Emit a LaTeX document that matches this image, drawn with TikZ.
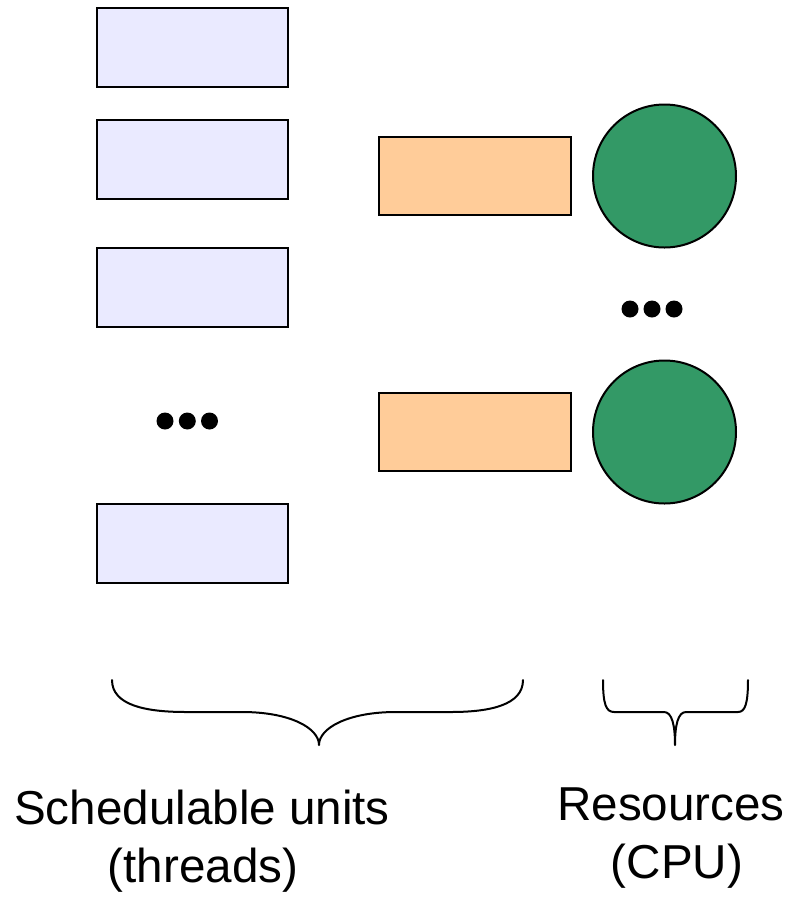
\documentclass[tikz,border=0pt]{standalone}
\usepackage{fontspec}
\setmainfont{Liberation Sans}
\definecolor{unitblue}{HTML}{EAEAFF}
\definecolor{queueorange}{HTML}{FFCC99}
\definecolor{cpugreen}{HTML}{339966}
\begin{document}
\begin{tikzpicture}[x=1pt,y=-1pt,
  unitbox/.style={draw=black,line width=2pt,fill=unitblue,minimum width=191pt,minimum height=79pt,inner sep=0pt},
  queuebox/.style={draw=black,line width=2pt,fill=queueorange,minimum width=192pt,minimum height=78pt,inner sep=0pt},
  cpucircle/.style={draw=black,line width=2pt,fill=cpugreen,circle,minimum size=143pt,inner sep=0pt},
  dotmark/.style={fill=black,circle,minimum size=17pt,inner sep=0pt},
  label/.style={font=\fontsize{47.6}{58}\selectfont,anchor=base,inner sep=0pt},
  bracepath/.style={line width=2pt,line cap=round,line join=round}]
\useasboundingbox (0,0) rectangle (792,898);
% schedulable units
\node[unitbox] (u1) at (192.5,47.5) {};
\node[unitbox] (u2) at (192.5,159.5) {};
\node[unitbox] (u3) at (192.5,287.5) {};
\node[unitbox] (u4) at (192.5,543.5) {};
\node[dotmark] (ld1) at (165,421) {};
\node[dotmark] (ld2) at (187.3,421) {};
\node[dotmark] (ld3) at (209.5,421) {};
% queues
\node[queuebox] (q1) at (475,176) {};
\node[queuebox] (q2) at (475,432) {};
% cpus
\node[cpucircle] (c1) at (664.5,176) {};
\node[cpucircle] (c2) at (664.5,432) {};
\node[dotmark] (rd1) at (630,309) {};
\node[dotmark] (rd2) at (652,309) {};
\node[dotmark] (rd3) at (674,309) {};
% braces
\draw[bracepath] (112,680) .. controls (112,705) and (145,712) .. (186,712) -- (242,712)
  .. controls (290,712) and (319,728) .. (319,745)
  .. controls (319,728) and (348,712) .. (396,712) -- (451,712)
  .. controls (490,712) and (523,705) .. (523,680);
\draw[bracepath] (603,680) .. controls (603,704) and (606,712) .. (614,712) -- (664,712)
  .. controls (672,712) and (675,725) .. (675,745)
  .. controls (675,725) and (678,712) .. (686,712) -- (738,712)
  .. controls (745,712) and (748,704) .. (748,680);
% labels
\node[label] (t1) at (202,824) {Schedulable units};
\node[label] (t2) at (203,882) {(threads)};
\node[label] (t3) at (671,820) {Resources};
\node[label] (t4) at (677,878) {(CPU)};
\end{tikzpicture}
\end{document}
